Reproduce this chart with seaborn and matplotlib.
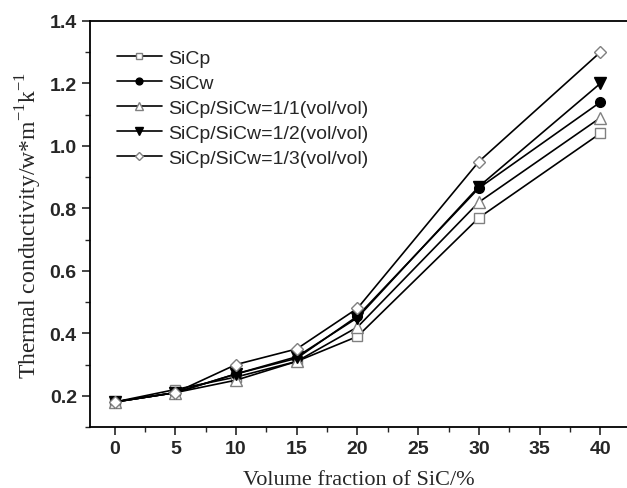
import numpy as np
import pandas as pd
import matplotlib
matplotlib.use("Agg")
import matplotlib.pyplot as plt
import seaborn as sns

vol = [0, 5, 10, 15, 20, 30, 40]
sicp = [0.18, 0.22, 0.26, 0.31, 0.39, 0.77, 1.04]
sicw = [0.18, 0.21, 0.27, 0.32, 0.455, 0.865, 1.14]
mix11 = [0.18, 0.21, 0.25, 0.31, 0.42, 0.82, 1.09]
mix12 = [0.18, 0.21, 0.27, 0.325, 0.45, 0.87, 1.20]
mix13 = [0.18, 0.21, 0.30, 0.35, 0.48, 0.95, 1.30]

names = ["SiCp", "SiCw", "SiCp/SiCw=1/1(vol/vol)",
         "SiCp/SiCw=1/2(vol/vol)", "SiCp/SiCw=1/3(vol/vol)"]
series = [sicp, sicw, mix11, mix12, mix13]
markers = ["s", "o", "^", "v", "D"]
faces = ["white", "black", "white", "black", "white"]
edges = ["#808080", "black", "#808080", "black", "#808080"]
sizes = [7, 7, 8, 8, 6.5]

sns.set_style("ticks")
fig = plt.figure(figsize=(6.27, 4.89), dpi=100)
ax = fig.add_axes([90 / 627, 61 / 489, 537 / 627, 406 / 489])

for name, vals, m, fc, ec, ms in zip(names, series, markers, faces, edges, sizes):
    df = pd.DataFrame({"x": vol, "y": vals})
    sns.lineplot(data=df, x="x", y="y", ax=ax, color="black", linewidth=1.2,
                 marker=m, markersize=ms,
                 markerfacecolor=fc, markeredgecolor=ec, markeredgewidth=1.0,
                 label=name)

ax.set_xlim(-2.03, 42.2)
ax.set_ylim(0.1, 1.4)
ax.set_xticks([0, 5, 10, 15, 20, 25, 30, 35, 40])
ax.set_xticks(np.arange(2.5, 42, 5), minor=True)
ax.set_yticks([0.2, 0.4, 0.6, 0.8, 1.0, 1.2, 1.4])
ax.set_yticks(np.arange(0.1, 1.4, 0.2), minor=True)
ax.set_yticklabels(["0.2", "0.4", "0.6", "0.8", "1.0", "1.2", "1.4"])
ax.tick_params(which="major", direction="out", length=6, width=1.2,
               labelsize=14)
ax.tick_params(which="minor", direction="out", length=3.5, width=1.0)
for lab in ax.get_xticklabels() + ax.get_yticklabels():
    lab.set_fontfamily("Liberation Sans")
    lab.set_fontweight("bold")

for side in ["left", "bottom", "top"]:
    ax.spines[side].set_linewidth(1.3)
    ax.spines[side].set_color("black")
ax.spines["right"].set_visible(False)

ax.set_xlabel("Volume fraction of SiC/%", fontfamily="Liberation Serif",
              fontsize=16, labelpad=9)
ax.set_ylabel(r"Thermal conductivity/w*m$^{\mathregular{-1}}$k$^{\mathregular{-1}}$",
              fontfamily="Liberation Serif", fontsize=17, labelpad=4)

leg = ax.legend(loc="upper left", bbox_to_anchor=(0.036, 0.95), frameon=False,
                prop={"family": "Liberation Sans", "size": 14},
                handlelength=2.3, handletextpad=0.3, labelspacing=0.38,
                markerscale=0.7, borderaxespad=0)

fig.savefig("out.png", dpi=100)
